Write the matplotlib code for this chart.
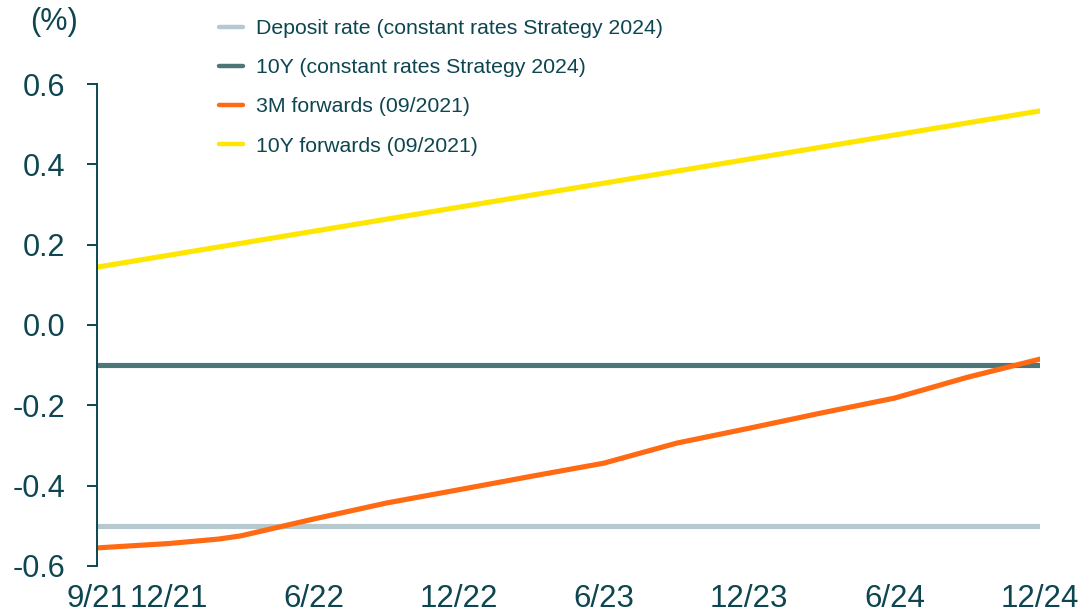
import matplotlib
matplotlib.use("Agg")
import matplotlib.pyplot as plt
import pandas as pd

# data (%)
dates = pd.to_datetime(["2021-09-01", "2021-12-01", "2022-02-01", "2022-03-01", "2022-06-01",
                        "2022-09-01", "2022-12-01", "2023-03-01", "2023-06-01", "2023-09-01",
                        "2023-12-01", "2024-03-01", "2024-06-01", "2024-09-01", "2024-12-01"])
fwd_3m = [-0.555, -0.544, -0.533, -0.525, -0.483, -0.443, -0.410, -0.377, -0.344, -0.294,
          -0.257, -0.219, -0.182, -0.130, -0.085]
fwd_10y_dates = pd.to_datetime(["2021-09-01", "2024-12-01"])
fwd_10y = [0.144, 0.533]
deposit_rate = [-0.5, -0.5]
const_10y = [-0.1, -0.1]

tick_dates = pd.to_datetime(["2021-09-01", "2021-12-01", "2022-06-01", "2022-12-01",
                             "2023-06-01", "2023-12-01", "2024-06-01", "2024-12-01"])
tick_labels = ["9/21", "12/21", "6/22", "12/22", "6/23", "12/23", "6/24", "12/24"]
y_ticks = [-0.6, -0.4, -0.2, 0.0, 0.2, 0.4, 0.6]

text_col = "#0d4650"
plt.rcParams["font.family"] = ["Liberation Sans", "DejaVu Sans"]

fig = plt.figure(figsize=(10.82, 6.15), dpi=100)
ax = fig.add_axes([0.0896, 0.0797, 0.8715, 0.7837])

ax.plot(fwd_10y_dates, deposit_rate, color="#b5c9ce", lw=3.7,
        label="Deposit rate (constant rates Strategy 2024)")
ax.plot(fwd_10y_dates, const_10y, color="#4d7679", lw=3.7,
        label="10Y (constant rates Strategy 2024)")
ax.plot(dates, fwd_3m, color="#ff6a13", lw=3.7, label="3M forwards (09/2021)")
ax.plot(fwd_10y_dates, fwd_10y, color="#ffe600", lw=3.7, label="10Y forwards (09/2021)")

ax.set_xlim(dates[0], dates[-1])
ax.set_ylim(-0.6, 0.6)
ax.set_yticks(y_ticks)
ax.set_yticklabels(["%.1f" % v for v in y_ticks], fontsize=22, color=text_col)
ax.set_xticks(tick_dates)
ax.set_xticklabels(tick_labels, fontsize=22.5, color=text_col)

for s in ["top", "right", "bottom"]:
    ax.spines[s].set_visible(False)
ax.spines["left"].set_color(text_col)
ax.spines["left"].set_linewidth(1.4)
ax.tick_params(axis="y", length=7, width=1.4, color=text_col, pad=16)
ax.tick_params(axis="x", length=0, pad=13)

fig.text(0.0277, 0.964, "(%)", fontsize=22, color=text_col, va="center")

leg = ax.legend(loc="upper left", bbox_to_anchor=(219 / 1082, 1 - 19 / 615),
                bbox_transform=fig.transFigure, frameon=False, fontsize=15.3,
                handlelength=1.15, handletextpad=0.6, labelspacing=0.95,
                borderpad=0, borderaxespad=0)
for t in leg.get_texts():
    t.set_color(text_col)
for h in leg.legend_handles:
    h.set_solid_capstyle("round")
    h.set_linewidth(3.2)

fig.savefig("out.png", dpi=100)
